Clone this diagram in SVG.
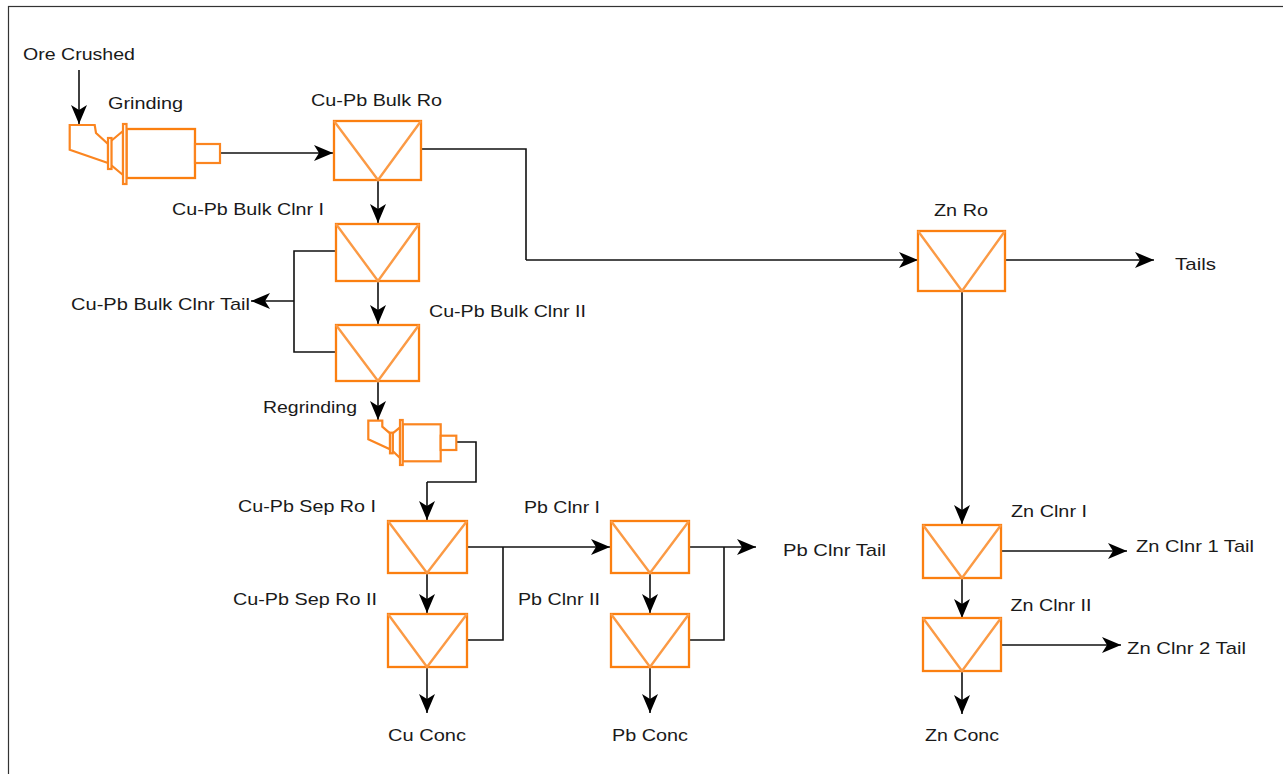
<svg xmlns="http://www.w3.org/2000/svg" width="1283" height="774" viewBox="0 0 1283 774">
<style>
text{font-family:"Liberation Sans",Arial,sans-serif;font-size:17px;fill:#1a1a1a;text-anchor:middle}
.o{fill:#fff;stroke:#fb7f10;stroke-width:2.300}
.v{fill:none;stroke:#fb9a45;stroke-width:2.400}
.h{fill:#fff;stroke:#fb8520;stroke-width:2.200}
.c{fill:none;stroke:#111;stroke-width:1.600}
.a{marker-end:url(#h)}
</style>
<defs>
<marker id="h" markerUnits="userSpaceOnUse" markerWidth="20" markerHeight="16" refX="19" refY="8" orient="auto"><path d="M0 0L19 8L0 16L5 8Z" fill="#000"/></marker>
</defs>
<rect x="8.500" y="6.500" width="1290" height="780" fill="#fff" stroke="#333" stroke-width="1.200"/>
<g id="connectors">
<path class="c a" d="M79 70V124"/>
<path class="c a" d="M220 153H333"/>
<path class="c" d="M421 149H526V260"/><path class="c a" d="M526 260H918"/>
<path class="c a" d="M1005 260H1154"/>
<path class="c a" d="M962 291V524"/>
<path class="c a" d="M378 180V223"/>
<path class="c a" d="M378 281V324"/>
<path class="c a" d="M378 381V420"/>
<path class="c" d="M335 251H294V352H335"/>
<path class="c a" d="M294 301H251"/>
<path class="c" d="M456 442H476V482H427"/><path class="c a" d="M427 482V520"/>
<path class="c a" d="M427 573V613"/>
<path class="c a" d="M427 667V713"/>
<path class="c a" d="M467 547H610"/>
<path class="c" d="M467 640H503V547"/>
<path class="c a" d="M650 573V613"/>
<path class="c a" d="M650 667V713"/>
<path class="c a" d="M689 547H756"/>
<path class="c" d="M689 640H724V547"/>
<path class="c a" d="M1001 551H1127"/>
<path class="c a" d="M962 578V618"/>
<path class="c a" d="M1001 645H1121"/>
<path class="c a" d="M962 671V714"/>
</g>
<g id="grinding">
<path class="h" d="M69.700 125H94.700L96 133L108 144V163L69.700 149.700Z"/>
<path class="h" d="M111 141L123 131V175L111 165Z"/>
<rect class="h" x="108" y="138" width="3.500" height="31"/>
<rect class="o" x="126.500" y="129" width="68.500" height="49"/>
<rect class="h" x="195" y="144" width="25" height="19"/>
<rect class="h" x="123" y="124" width="3.500" height="60"/>
</g>
<g id="regrinding">
<path class="h" d="M368.300 420.700H382.300V426.700L390 433.300V449.300L368.300 439.300Z"/>
<path class="h" d="M392.700 433.300L400 427.300V458L392.700 451Z"/>
<rect class="h" x="390" y="432.700" width="2.700" height="20.600"/>
<rect class="h" x="402.700" y="424.300" width="38" height="37"/>
<rect class="h" x="440.700" y="435.700" width="15.600" height="14.300"/>
<rect class="h" x="400" y="420" width="2.700" height="45"/>
</g>
<g id="cu-pb-bulk-ro"><rect class="o" x="334" y="121" width="87" height="59"/><path class="v" d="M334 121L378 180L421 121"/></g>
<g id="cu-pb-bulk-clnr-1"><rect class="o" x="336" y="224" width="83" height="57"/><path class="v" d="M336 224L378 281L419 224"/></g>
<g id="cu-pb-bulk-clnr-2"><rect class="o" x="336" y="325" width="83" height="56"/><path class="v" d="M336 325L378 381L419 325"/></g>
<g id="zn-ro"><rect class="o" x="918" y="231" width="87" height="60"/><path class="v" d="M918 231L962 291L1005 231"/></g>
<g id="cu-pb-sep-ro-1"><rect class="o" x="388" y="521" width="79" height="52"/><path class="v" d="M388 521L427 573L467 521"/></g>
<g id="cu-pb-sep-ro-2"><rect class="o" x="388" y="614" width="79" height="53"/><path class="v" d="M388 614L427 667L467 614"/></g>
<g id="pb-clnr-1"><rect class="o" x="611" y="521" width="78" height="52"/><path class="v" d="M611 521L650 573L689 521"/></g>
<g id="pb-clnr-2"><rect class="o" x="611" y="614" width="78" height="53"/><path class="v" d="M611 614L650 667L689 614"/></g>
<g id="zn-clnr-1"><rect class="o" x="923" y="525" width="78" height="53"/><path class="v" d="M923 525L962 578L1001 525"/></g>
<g id="zn-clnr-2"><rect class="o" x="923" y="618" width="78" height="53"/><path class="v" d="M923 618L962 671L1001 618"/></g>
<g id="labels">
<text lengthAdjust="spacingAndGlyphs" x="79" y="60" textLength="112">Ore Crushed</text>
<text lengthAdjust="spacingAndGlyphs" x="145.500" y="108.500" textLength="75">Grinding</text>
<text lengthAdjust="spacingAndGlyphs" x="376.500" y="105.500" textLength="131">Cu-Pb Bulk Ro</text>
<text lengthAdjust="spacingAndGlyphs" x="248" y="214.500" textLength="152">Cu-Pb Bulk Clnr I</text>
<text lengthAdjust="spacingAndGlyphs" x="160.500" y="309.500" textLength="179">Cu-Pb Bulk Clnr Tail</text>
<text lengthAdjust="spacingAndGlyphs" x="507.500" y="316.500" textLength="157">Cu-Pb Bulk Clnr II</text>
<text lengthAdjust="spacingAndGlyphs" x="310" y="412.500" textLength="94">Regrinding</text>
<text lengthAdjust="spacingAndGlyphs" x="307" y="511.500" textLength="138">Cu-Pb Sep Ro I</text>
<text lengthAdjust="spacingAndGlyphs" x="305" y="604.500" textLength="144">Cu-Pb Sep Ro II</text>
<text lengthAdjust="spacingAndGlyphs" x="562" y="512.500" textLength="76">Pb Clnr I</text>
<text lengthAdjust="spacingAndGlyphs" x="559" y="604.500" textLength="82">Pb Clnr II</text>
<text lengthAdjust="spacingAndGlyphs" x="834.500" y="555.500" textLength="103">Pb Clnr Tail</text>
<text lengthAdjust="spacingAndGlyphs" x="427" y="740.500" textLength="78">Cu Conc</text>
<text lengthAdjust="spacingAndGlyphs" x="650" y="740.500" textLength="76">Pb Conc</text>
<text lengthAdjust="spacingAndGlyphs" x="962" y="740.500" textLength="74">Zn Conc</text>
<text lengthAdjust="spacingAndGlyphs" x="961" y="215.500" textLength="54">Zn Ro</text>
<text lengthAdjust="spacingAndGlyphs" x="1195.500" y="269.500" textLength="41">Tails</text>
<text lengthAdjust="spacingAndGlyphs" x="1049" y="516.500" textLength="76">Zn Clnr I</text>
<text lengthAdjust="spacingAndGlyphs" x="1051" y="610.500" textLength="81">Zn Clnr II</text>
<text lengthAdjust="spacingAndGlyphs" x="1195" y="551.500" textLength="118">Zn Clnr 1 Tail</text>
<text lengthAdjust="spacingAndGlyphs" x="1186.500" y="653.500" textLength="119">Zn Clnr 2 Tail</text>
</g>
</svg>
